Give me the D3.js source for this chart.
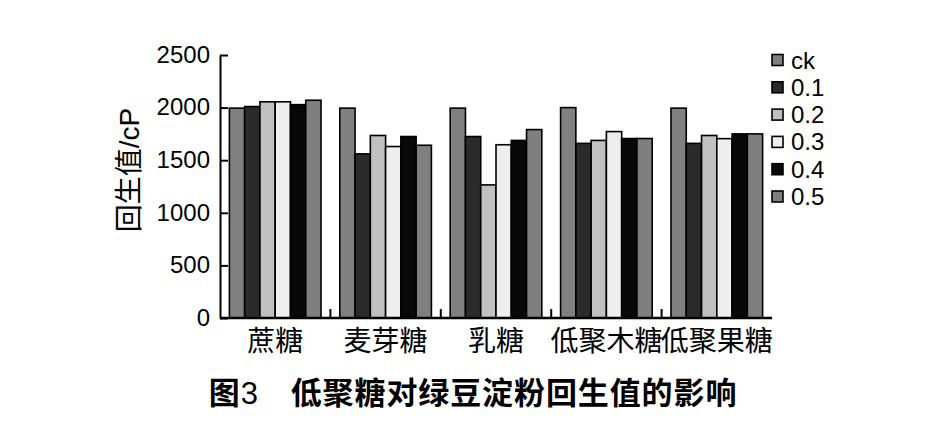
<!DOCTYPE html>
<html><head><meta charset="utf-8">
<script src="https://cdn.jsdelivr.net/npm/d3@7"></script>
<style>body{margin:0;background:#fff}svg{display:block}</style>
</head><body>
<svg id="c" width="946" height="442"></svg>
<script>
const categories = ["蔗糖","麦芽糖","乳糖","低聚木糖","低聚果糖"];
const seriesNames = ["ck","0.1","0.2","0.3","0.4","0.5"];
const seriesColors = ["#808080","#2b2b2b","#c0c0c0","#eeeeee","#080808","#7f7f7f"];
const valuesCk  = [1995,1995,1995,2000,1995];
const values01  = [2010,1560,1725,1660,1660];
const values02  = [2055,1735,1265,1688,1735];
const values03  = [2055,1630,1647,1772,1705];
const values04  = [2028,1725,1688,1706,1750];
const values05  = [2070,1642,1791,1706,1750];
const yTicks = [0,500,1000,1500,2000,2500];
const titleParts = ["图","3","\u3000低聚糖对绿豆淀粉回生值的影响"];
const yLabel = "回生值/cP";

(function(){
const series = [valuesCk,values01,values02,values03,values04,values05];
const svg = d3.select("#c");
const font = "'Liberation Sans','Noto Sans CJK SC',sans-serif";
const mLeft = 220, mRight = 772, mTop = 55, mBottom = 318;

const x0 = d3.scaleBand().domain(categories).range([mLeft,mRight]).paddingInner(0.17).paddingOuter(0.085);
const x1 = d3.scaleBand().domain(seriesNames).range([0,x0.bandwidth()]).padding(0);
const y = d3.scaleLinear().domain([0,2500]).range([mBottom,mTop]);

const g = svg.append("g");
categories.forEach((c,ci)=>{
  seriesNames.forEach((s,si)=>{
    const v = series[si][ci];
    g.append("rect")
      .attr("x", x0(c)+x1(s))
      .attr("y", y(v))
      .attr("width", x1.bandwidth())
      .attr("height", y(0)-y(v))
      .attr("fill", seriesColors[si])
      .attr("stroke","#000").attr("stroke-width",1.6);
  });
});

const yAxis = d3.axisLeft(y).tickValues(yTicks).tickFormat(d3.format("d"))
  .tickSizeInner(-8).tickSizeOuter(0).tickPadding(10);
const ya = svg.append("g").attr("transform",`translate(${mLeft},0)`).call(yAxis);
ya.select(".domain").attr("stroke","#000").attr("stroke-width",2);
ya.selectAll(".tick line").attr("stroke","#000").attr("stroke-width",2);
ya.selectAll(".tick text").attr("font-family",font).attr("font-size",24).attr("fill","#000").attr("dy","0.3em");

svg.append("line").attr("x1",mLeft).attr("x2",mRight).attr("y1",mBottom).attr("y2",mBottom)
  .attr("stroke","#000").attr("stroke-width",2.5);
for (let i=1;i<categories.length;i++){
  const xx = mLeft + i*(mRight-mLeft)/categories.length;
  svg.append("line").attr("x1",xx).attr("x2",xx).attr("y1",mBottom).attr("y2",mBottom-9)
    .attr("stroke","#000").attr("stroke-width",2);
}
categories.forEach(c=>{
  svg.append("text").attr("x", x0(c)+x0.bandwidth()/2).attr("y",341)
    .attr("text-anchor","middle").attr("dominant-baseline","central")
    .attr("font-family",font).attr("font-size",28).attr("fill","#000").text(c);
});

svg.append("text").attr("transform","translate(129,170) rotate(-90)")
  .attr("text-anchor","middle").attr("dominant-baseline","central")
  .attr("font-family",font).attr("font-size",28).attr("fill","#000").text(yLabel);

const lg = svg.append("g");
seriesNames.forEach((s,i)=>{
  const cy = 60 + i*27.3;
  lg.append("rect").attr("x",772).attr("y",cy-5.5).attr("width",11).attr("height",11)
    .attr("fill",seriesColors[i]).attr("stroke","#000").attr("stroke-width",1.6);
  lg.append("text").attr("x",791).attr("y",cy).attr("dominant-baseline","central")
    .attr("font-family",font).attr("font-size",24).attr("fill","#000").text(s);
});

const t = svg.append("text").attr("x",473).attr("y",393).attr("text-anchor","middle").attr("dominant-baseline","central")
  .attr("font-family",font).attr("font-size",31).attr("letter-spacing",0.9).attr("fill","#000");
titleParts.forEach((p,i)=>{
  t.append("tspan").attr("font-weight", i===1 ? "normal" : "bold").text(p);
});
})();
</script>
</body></html>
